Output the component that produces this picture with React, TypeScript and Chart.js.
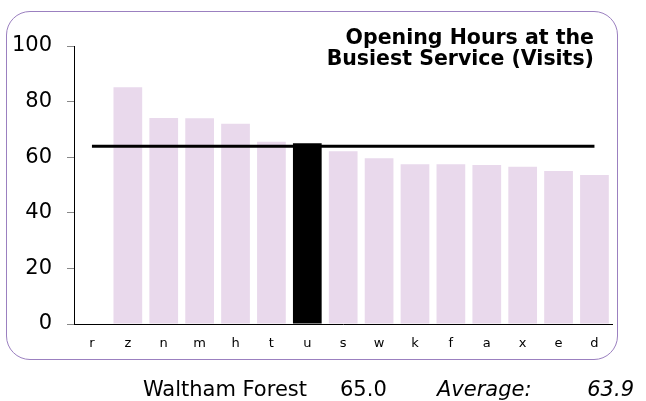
import React, { useEffect, useRef } from "react";
import { Chart, registerables } from "chart.js";

Chart.register(...registerables);

const categories = ["r", "z", "n", "m", "h", "t", "u", "s", "w", "k", "f", "a", "x", "e", "d"];
const visits: (number | null)[] = [null, 85.2, 74.1, 74.0, 72.0, 65.6, 65.0, 62.1, 59.6, 57.5, 57.5, 57.2, 56.6, 55.0, 53.6];
const averageLine = [63.9, 63.9, 63.9, 63.9, 63.9, 63.9, 63.9, 63.9, 63.9, 63.9, 63.9, 63.9, 63.9, 63.9, 63.9];
const highlightCategory = "u";
const yTickValues = [0, 20, 40, 60, 80, 100];
const titleLines = ["Opening Hours at the", "Busiest Service (Visits)"];
const selectedName = "Waltham Forest";
const selectedValue = "65.0";
const averageLabel = "Average:";
const averageValue = "63.9";

const FONT = "'DejaVu Sans', Verdana, sans-serif";

export default function App() {
  const canvasRef = useRef<HTMLCanvasElement | null>(null);

  useEffect(() => {
    const canvas = canvasRef.current;
    if (!canvas) return;
    const chart = new Chart(canvas, {
      type: "bar",
      data: {
        labels: categories,
        datasets: [
          {
            type: "line",
            data: averageLine,
            borderColor: "#000000",
            borderWidth: 3,
            pointRadius: 0,
            fill: false,
            order: 0,
          } as any,
          {
            type: "bar",
            data: visits,
            backgroundColor: categories.map((c) => (c === highlightCategory ? "#000000" : "#e9d9ec")),
            barPercentage: 0.8,
            categoryPercentage: 1,
            order: 1,
          },
        ],
      },
      options: {
        responsive: false,
        animation: false,
        devicePixelRatio: 1,
        layout: { padding: { left: 12, top: 46, right: 33.6, bottom: 47 } },
        plugins: { legend: { display: false }, tooltip: { enabled: false }, title: { display: false } },
        scales: {
          x: {
            type: "category",
            grid: { display: false, drawTicks: false },
            border: { display: true, color: "#000000", width: 1 },
            ticks: {
              color: "#000000",
              font: { family: FONT, size: 13 },
              padding: 12,
              maxRotation: 0,
              autoSkip: false,
            },
            afterFit: (s: any) => {
              s.height = 30;
            },
          },
          y: {
            min: 0,
            max: 100,
            afterBuildTicks: (s: any) => {
              s.ticks = yTickValues.map((v) => ({ value: v }));
            },
            ticks: {
              color: "#000000",
              font: { family: FONT, size: 21 },
              padding: 15,
            },
            grid: { drawOnChartArea: false, drawTicks: true, tickLength: 7, color: "#888888" },
            border: { display: true, color: "#000000", width: 1 },
            afterFit: (s: any) => {
              s.width = 62;
            },
          },
        },
      },
    });
    return () => chart.destroy();
  }, []);

  return (
    <div style={{ position: "fixed", left: 0, top: 0, width: 646, height: 401, background: "#ffffff", overflow: "hidden" }}>
      <div
        style={{
          position: "absolute",
          left: 6,
          top: 11,
          width: 612,
          height: 349,
          border: "1.5px solid #9b80c0",
          borderRadius: 24,
          boxSizing: "border-box",
        }}
      />
      <canvas ref={canvasRef} width={646} height={401} style={{ position: "absolute", left: 0, top: 0 }} />
      <div
        style={{
          position: "absolute",
          right: 52,
          top: 26.6,
          textAlign: "right",
          fontFamily: FONT,
          fontWeight: "bold",
          fontSize: 20.5,
          lineHeight: "21.3px",
          color: "#000",
          whiteSpace: "nowrap",
        }}
      >
        {titleLines.map((t, i) => (
          <div key={i}>{t}</div>
        ))}
      </div>
      <div style={{ position: "absolute", top: 377, left: 0, width: 646, height: 25, fontFamily: FONT, fontSize: 21, lineHeight: "25px", color: "#000" }}>
        <span style={{ position: "absolute", right: 339, whiteSpace: "nowrap" }}>{selectedName}</span>
        <span style={{ position: "absolute", left: 340, whiteSpace: "nowrap" }}>{selectedValue}</span>
        <span style={{ position: "absolute", left: 437, fontStyle: "italic", whiteSpace: "nowrap" }}>{averageLabel}</span>
        <span style={{ position: "absolute", right: 12, fontStyle: "italic", whiteSpace: "nowrap" }}>{averageValue}</span>
      </div>
    </div>
  );
}
